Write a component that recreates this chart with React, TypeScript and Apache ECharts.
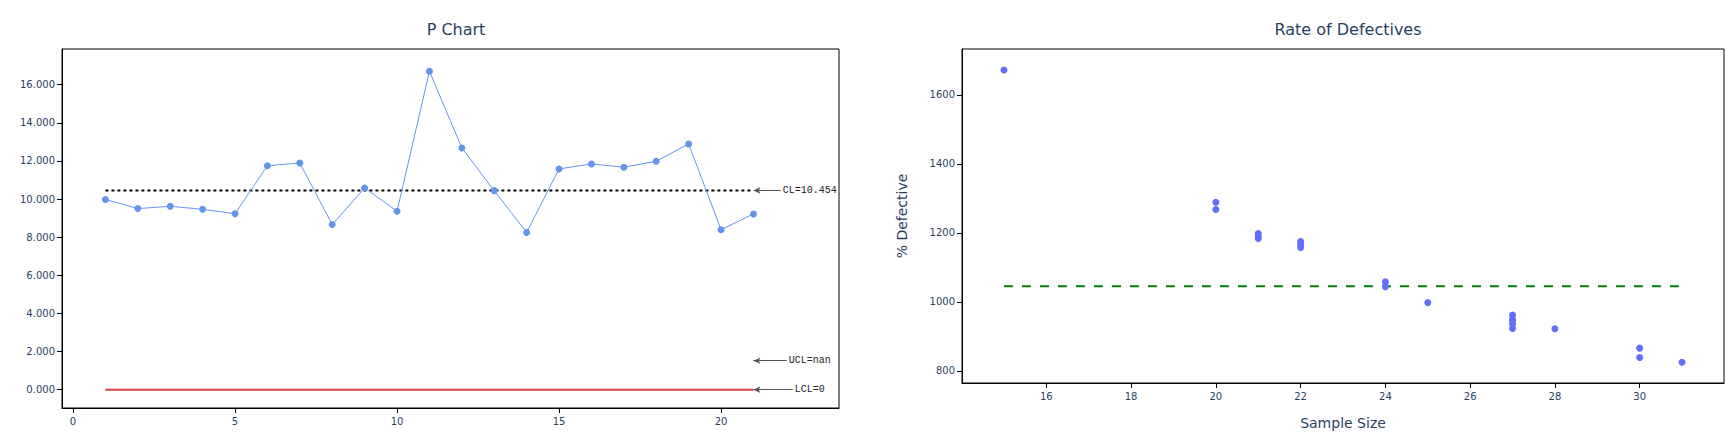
import React, { useEffect, useRef } from "react";
import * as echarts from "echarts";

// ---- Data ----
const sampleNumbers = [1, 2, 3, 4, 5, 6, 7, 8, 9, 10, 11, 12, 13, 14, 15, 16, 17, 18, 19, 20, 21];
const proportionDefective = [
  9.98, 9.5, 9.62, 9.46, 9.23, 11.75, 11.89, 8.66, 10.58, 9.36, 16.7,
  12.68, 10.44, 8.25, 11.58, 11.84, 11.67, 11.98, 12.89, 8.39, 9.22,
];
const sampleSizes = [25, 27, 27, 27, 27, 22, 21, 30, 24, 27, 15, 20, 24, 31, 22, 21, 22, 21, 20, 30, 28];
const percentDefective = [
  998, 950, 962, 946, 923, 1175, 1189, 866, 1058, 936, 1672,
  1268, 1044, 825, 1158, 1184, 1167, 1198, 1289, 839, 922,
];
const centerLine = 10.454;
const lowerLimit = 0;
const upperLimitLabelY = 1.52;
const rateCenterLine = 1045.4;
const annotationTexts = ["CL=10.454", "UCL=nan", "LCL=0"];

const FONT = "DejaVu Sans";
const TXT = "#2a3f5f";

export default function App() {
  const ref = useRef<HTMLDivElement>(null);

  useEffect(() => {
    if (!ref.current) return;
    const chart = echarts.init(ref.current, undefined, { renderer: "svg" });

    const firstX = sampleNumbers[0];
    const lastX = sampleNumbers[sampleNumbers.length - 1];
    const minN = Math.min(...sampleSizes);
    const maxN = Math.max(...sampleSizes);

    const annotationYs = [centerLine, upperLimitLabelY, lowerLimit];
    const annotationEnds = [21.84, 22.03, 22.21];

    const axisCommon = {
      axisLine: { show: true, onZero: false, lineStyle: { color: "#000", width: 1 } },
      axisTick: { show: true, inside: false, length: 5, lineStyle: { color: "#000" } },
      splitLine: { show: false },
    };
    const labelCommon = {
      fontFamily: FONT,
      fontSize: 10,
      color: TXT,
      showMinLabel: false,
      showMaxLabel: false,
    };

    const option: any = {
      animation: false,
      backgroundColor: "#fff",
      title: [
        {
          text: "P Chart",
          left: 451,
          top: 16,
          textAlign: "center",
          textStyle: { fontFamily: FONT, fontSize: 16, fontWeight: "normal", color: TXT },
        },
        {
          text: "Rate of Defectives",
          left: 1343,
          top: 16,
          textAlign: "center",
          textStyle: { fontFamily: FONT, fontSize: 16, fontWeight: "normal", color: TXT },
        },
      ],
      grid: [
        { left: 62, top: 49, width: 777, height: 359, show: true, borderColor: "#000", borderWidth: 1, backgroundColor: "transparent" },
        { left: 962, top: 49, width: 762, height: 334, show: true, borderColor: "#000", borderWidth: 1, backgroundColor: "transparent" },
      ],
      xAxis: [
        {
          type: "value",
          gridIndex: 0,
          min: -0.34,
          max: 23.64,
          splitNumber: 5,
          ...axisCommon,
          axisLabel: { ...labelCommon, margin: 8, formatter: (v: number) => String(v) },
        },
        {
          type: "value",
          gridIndex: 1,
          min: 14.01,
          max: 31.99,
          splitNumber: 9,
          ...axisCommon,
          axisLabel: { ...labelCommon, margin: 8, formatter: (v: number) => String(v) },
          name: "Sample Size",
          nameLocation: "middle",
          nameGap: 33,
          nameTextStyle: { fontFamily: FONT, fontSize: 14, color: TXT },
        },
      ],
      yAxis: [
        {
          type: "value",
          gridIndex: 0,
          min: -0.96,
          max: 17.87,
          splitNumber: 9,
          ...axisCommon,
          axisLabel: { ...labelCommon, margin: 7, formatter: (v: number) => v.toFixed(3) },
        },
        {
          type: "value",
          gridIndex: 1,
          min: 765,
          max: 1733,
          splitNumber: 5,
          ...axisCommon,
          axisLabel: { ...labelCommon, margin: 7, formatter: (v: number) => String(v) },
          name: "% Defective",
          nameLocation: "middle",
          nameRotate: 90,
          nameGap: 53,
          nameTextStyle: { fontFamily: FONT, fontSize: 14, color: TXT },
        },
      ],
      series: [
        {
          name: "CL",
          type: "line",
          xAxisIndex: 0,
          yAxisIndex: 0,
          data: [[firstX, centerLine], [lastX, centerLine]],
          symbol: "none",
          lineStyle: { color: "#000", width: 2, type: [3, 3] },
          silent: true,
        },
        {
          name: "LCL",
          type: "line",
          xAxisIndex: 0,
          yAxisIndex: 0,
          data: [[firstX, lowerLimit], [lastX, lowerLimit]],
          symbol: "none",
          lineStyle: { color: "#d9423c", width: 2 },
          silent: true,
        },
        {
          name: "p",
          type: "line",
          xAxisIndex: 0,
          yAxisIndex: 0,
          data: sampleNumbers.map((x, i) => [x, proportionDefective[i]]),
          symbol: "circle",
          symbolSize: 7,
          showSymbol: true,
          itemStyle: { color: "#6495ED" },
          lineStyle: { color: "#6495ED", width: 1 },
          z: 5,
        },
        {
          name: "annotations",
          type: "scatter",
          xAxisIndex: 0,
          yAxisIndex: 0,
          data: [],
          markLine: {
            silent: true,
            animation: false,
            symbol: ["arrow", "none"],
            symbolSize: [5, 7],
            lineStyle: { color: "#555", width: 1, type: "solid" },
            label: {
              show: true,
              position: "end",
              distance: 2,
              fontFamily: "Liberation Mono",
              fontSize: 10,
              color: "#222",
            },
            data: annotationTexts.map((t, i) => [
              { coord: [lastX, annotationYs[i]], label: { formatter: t } },
              { coord: [annotationEnds[i], annotationYs[i]] },
            ]),
          },
        },
        {
          name: "rate CL",
          type: "line",
          xAxisIndex: 1,
          yAxisIndex: 1,
          data: [[minN, rateCenterLine], [maxN, rateCenterLine]],
          symbol: "none",
          lineStyle: { color: "#008000", width: 2, type: [9, 9] },
          silent: true,
        },
        {
          name: "rate",
          type: "scatter",
          xAxisIndex: 1,
          yAxisIndex: 1,
          data: sampleSizes.map((n, i) => [n, percentDefective[i]]),
          symbolSize: 7,
          itemStyle: { color: "#636efa", opacity: 1 },
          z: 5,
        },
      ],
    };

    chart.setOption(option);
    return () => chart.dispose();
  }, []);

  return (
    <div
      ref={ref}
      style={{ position: "fixed", left: 0, top: 0, width: 1735, height: 437, background: "#fff" }}
    />
  );
}
